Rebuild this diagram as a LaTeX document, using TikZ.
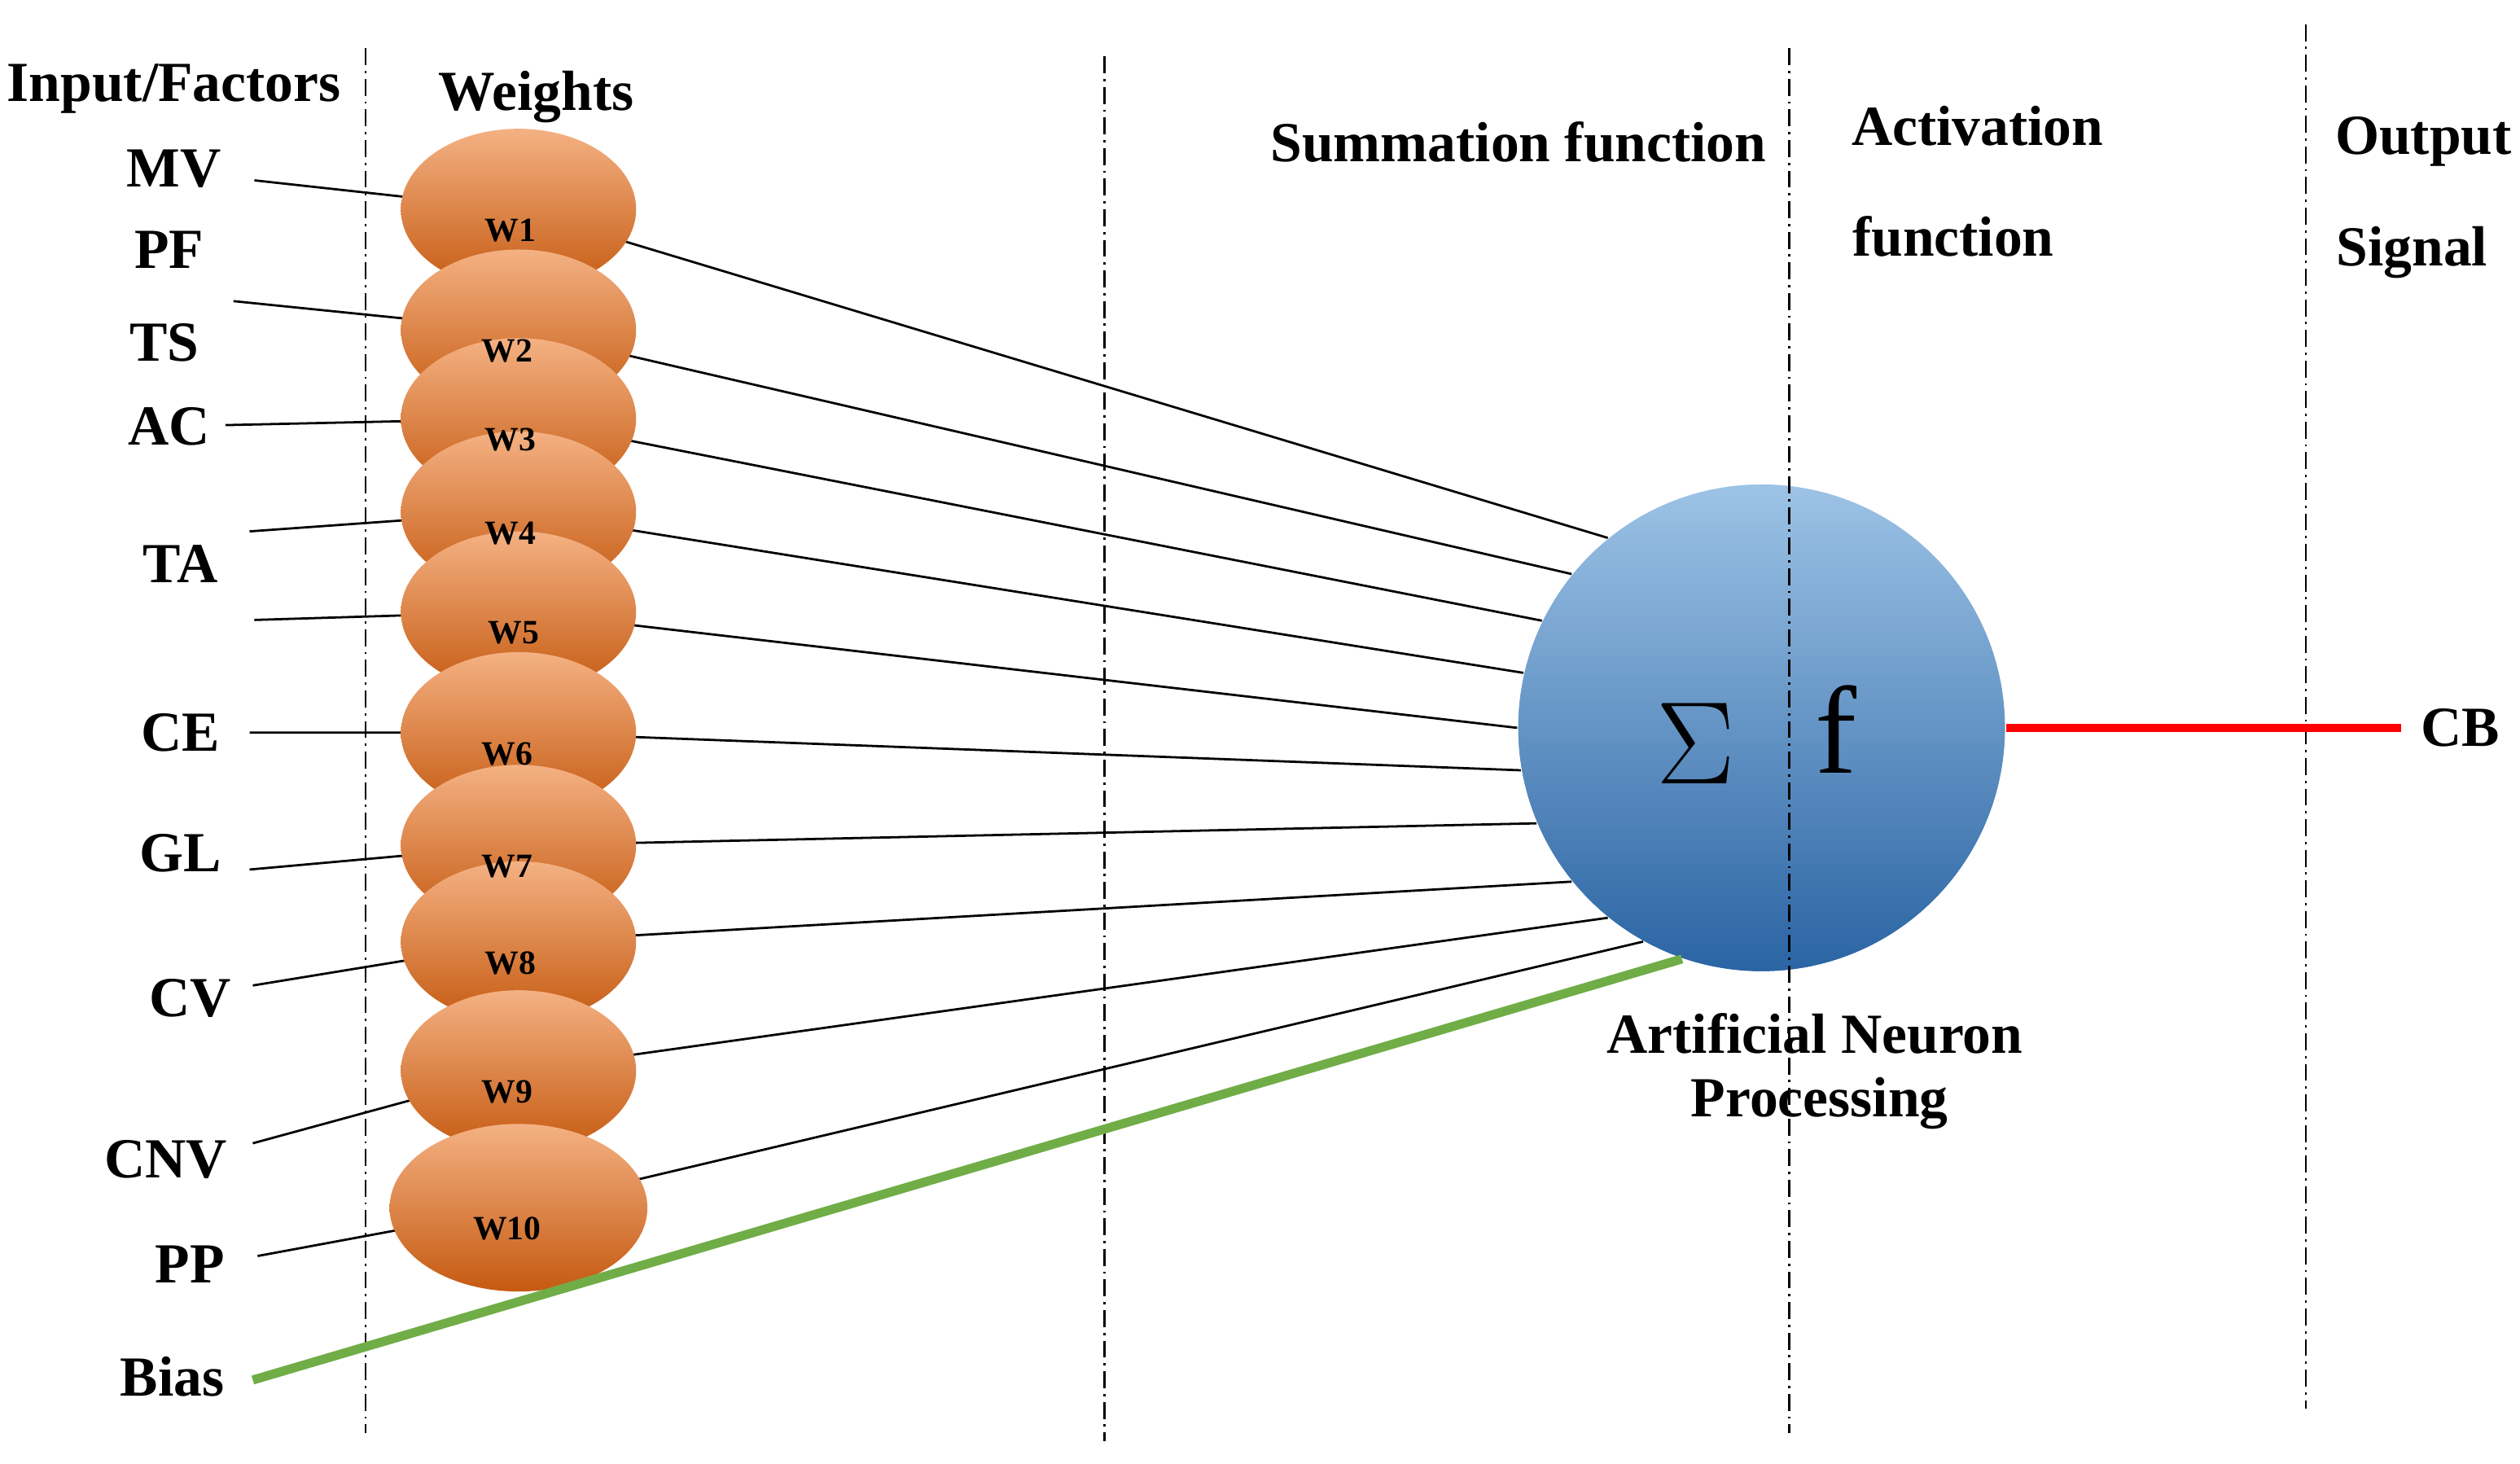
\documentclass[tikz,border=0pt]{standalone}
\usepackage{fontspec}
\setmainfont{Liberation Serif}
\usetikzlibrary{shapes.geometric}
\definecolor{wlight}{HTML}{F4B183}
\definecolor{wdark}{HTML}{C55A11}
\definecolor{nlight}{HTML}{9DC3E6}
\definecolor{ndark}{HTML}{2A64A3}
\definecolor{biasgreen}{HTML}{70AD47}
\tikzset{
  lbl/.style={font=\fontsize{10}{12}\selectfont\bfseries},
  wgt/.style={ellipse, minimum width=1.46cm, minimum height=1cm, inner sep=0pt,
    top color=wlight, bottom color=wdark},
  wtxt/.style={font=\fontsize{6}{7}\selectfont\bfseries},
  sep/.style={densely dashdotted, thin},
  wire/.style={thin}
}
\begin{document}
\begin{tikzpicture}[x=0.01cm,y=-0.01cm]
  \useasboundingbox (0,0) rectangle (1565,909);

  % Separators
  \draw[sep] (227,30) -- (227,890);
  \draw[sep] (686,35) -- (686,895);
  \draw[sep] (1432,15) -- (1432,875);

  % Headings
  \node[lbl] (h-in) at (108,55) {Input/Factors};
  \node[lbl] (h-w) at (333,60) {Weights};
  \node[lbl] (h-sum) at (943,88) {Summation function};
  \node[lbl] (h-act) at (1228,78) {Activation};
  \node[lbl] (h-act2) at (1213,147) {function};
  \node[lbl] (h-out) at (1505,88) {Output};
  \node[lbl] (h-out2) at (1498,157) {Signal};

  % Inputs
  \node[lbl] (mv) at (108,105) {MV};
  \node[lbl] (pf) at (105,155) {PF};
  \node[lbl] (ts) at (102,213) {TS};
  \node[lbl] (ac) at (105,265) {AC};
  \node[lbl] (ta) at (112,350) {TA};
  \node[lbl] (ce) at (112,455) {CE};
  \node[lbl] (gl) at (112,530) {GL};
  \node[lbl] (cv) at (118,620) {CV};
  \node[lbl] (cnv) at (103,720) {CNV};
  \node[lbl] (pp) at (118,785) {PP};
  \node[lbl] (bias) at (107,855) {Bias};

  % Free ends of the input wires
  \coordinate (i1) at (158,112);
  \coordinate (i2) at (145,187);
  \coordinate (i3) at (140,264);
  \coordinate (i4) at (155,330);
  \coordinate (i5) at (158,385);
  \coordinate (i6) at (155,455);
  \coordinate (i7) at (155,540);
  \coordinate (i8) at (157,612);
  \coordinate (i9) at (157,710);
  \coordinate (i10) at (160,780);
  \coordinate (ib) at (157,857);

  % Neuron
  \node[circle, minimum size=3.02cm, inner sep=0pt, top color=nlight, bottom color=ndark] (neuron) at (1094,452) {};

  % Weight wires (drawn under the ellipses)
  \foreach \i/\y/\a in {1/130/129, 2/205/141, 3/260/154, 4/318/167, 5/380/180,
                        6/455/190, 7/525/203, 8/585/219, 9/665/231, 10/750/241} {
    \coordinate (c\i) at (322,\y);
    \draw[wire] (i\i) -- (c\i) -- (neuron.\a);
  }

  % Weights
  \foreach \i in {1,...,9} {
    \node[wgt] (w\i) at (c\i) {};
  }
  \node[wgt, minimum width=1.6cm, minimum height=1.04cm] (w10) at (c10) {};
  \foreach \i/\dx in {1/-5, 2/-7, 3/-5, 4/-5, 5/-3, 6/-7, 7/-7, 8/-5, 9/-7, 10/-7} {
    \node[wtxt] (t\i) at ([shift={(\dx,13)}]c\i) {W\i};
  }

  % Neuron on top of the wires
  \node[circle, minimum size=3.02cm, inner sep=0pt, top color=nlight, bottom color=ndark] at (neuron) {};
  \draw[sep] (1111,30) -- (1111,890);
  \node[font=\fontsize{20}{22}\selectfont] (sigma) at (1053,462) {$\Sigma$};
  \node[font=\fontsize{22}{24}\selectfont] (f) at (1140,453) {f};
  \node[lbl] (np1) at (1127,642) {Artificial Neuron};
  \node[lbl] (np2) at (1130,685) {Processing};

  % Bias and output
  \draw[biasgreen, line width=1.6pt] (ib) -- (neuron.251);
  \node[lbl] (cb) at (1528,452) {CB};
  \draw[red, line width=1.4pt] (neuron.east) -- (cb.west);
\end{tikzpicture}
\end{document}
